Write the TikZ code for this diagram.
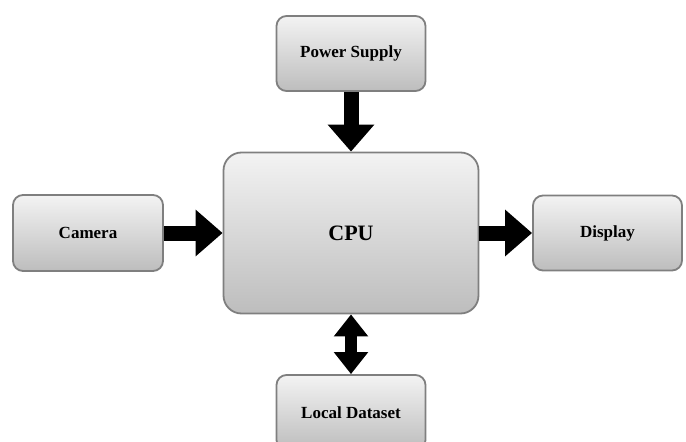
\documentclass[tikz,border=0pt]{standalone}
\usepackage{fontspec}
\setmainfont{Liberation Serif}
\usetikzlibrary{arrows.meta}
\definecolor{boxtop}{HTML}{F3F3F3}
\definecolor{boxbot}{HTML}{BDBDBD}
\definecolor{boxline}{HTML}{7F7F7F}
\tikzset{
  blk/.style={draw=boxline, line width=1.8pt, rounded corners=10pt,
    top color=boxtop, bottom color=boxbot, minimum width=149pt, minimum height=75pt,
    inner sep=0pt, font=\fontsize{17}{20}\selectfont\bfseries},
  cpubox/.style={blk, rounded corners=18pt, minimum width=255pt, minimum height=161pt,
    font=\fontsize{22}{26}\selectfont\bfseries},
  fat/.style={line width=15pt, -{Triangle[length=27pt,width=45pt]}},
  fatboth/.style={line width=12pt, {Triangle[length=22pt,width=33pt]}-{Triangle[length=22pt,width=33pt]}}
}
\begin{document}
\begin{tikzpicture}[x=1pt,y=-1pt]
\useasboundingbox (0,0) rectangle (686,442);
\clip (0,0) rectangle (686,442);
\node[cpubox] (cpu) at (351,233) {CPU};
\node[blk] (ps) at (351,53.5) {Power Supply};
\node[blk, minimum width=150pt, minimum height=76pt] (cam) at (88,233) {Camera};
\node[blk] (disp) at (607.5,233) {Display};
\node[blk] (ld) at (351,412.5) {Local Dataset};
\draw[fat] (ps.south) -- (ps.south |- cpu.north);
\draw[fat] (cam.east) -- (cam.east -| cpu.west);
\draw[fat] (cpu.east) -- (cpu.east -| disp.west);
\draw[fatboth] (cpu.south) -- (cpu.south |- ld.north);
\end{tikzpicture}
\end{document}
